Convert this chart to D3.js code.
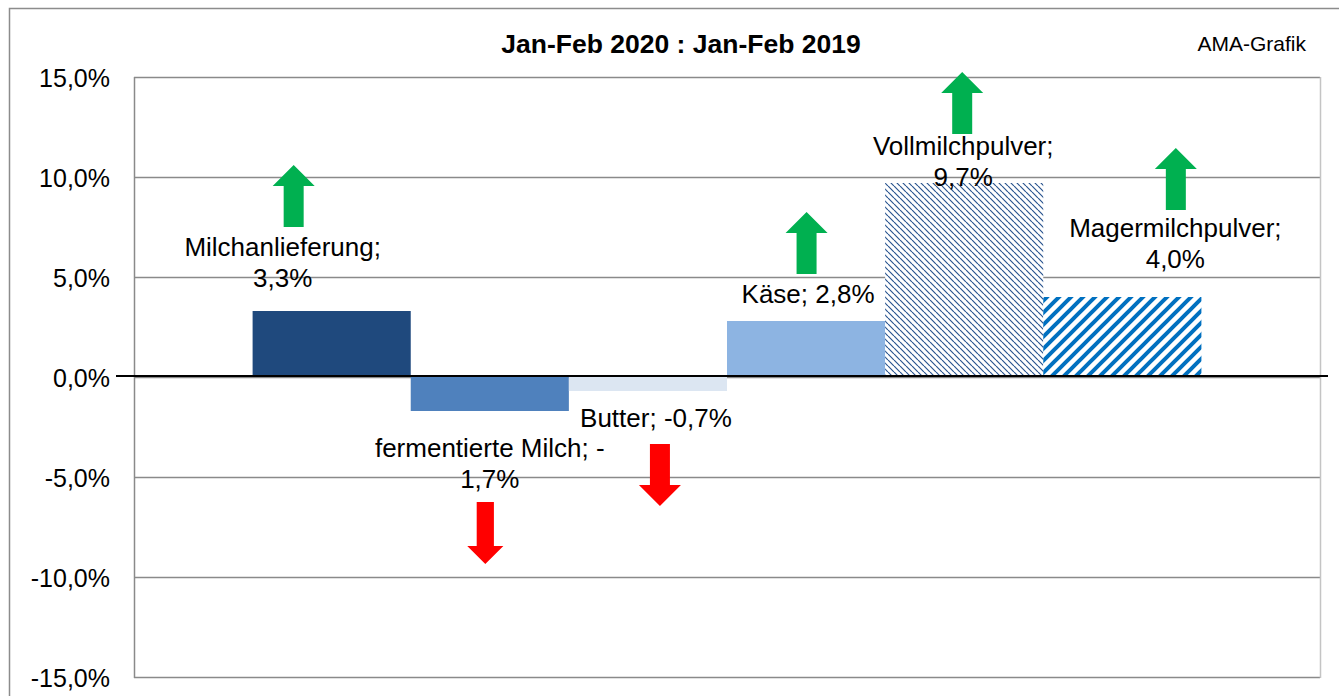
<!DOCTYPE html>
<html>
<head>
<meta charset="utf-8">
<script src="https://cdn.jsdelivr.net/npm/d3@7"></script>
<style>
  html, body { margin: 0; padding: 0; background: #fff; }
  svg { display: block; font-family: "Liberation Sans", Arial, sans-serif; }
</style>
</head>
<body>
<div id="chart"></div>
<script>
// data (change vs. previous year, in %)
const products = ["Milchanlieferung", "fermentierte Milch", "Butter", "Käse", "Vollmilchpulver", "Magermilchpulver"];
const changes = [3.3, -1.7, -0.7, 2.8, 9.7, 4.0];
const yTicks = [-15, -10, -5, 0, 5, 10, 15];
const title = "Jan-Feb 2020 : Jan-Feb 2019";
const source = "AMA-Grafik";

// layout of the hand-placed labels and arrows (offsets in px)
const labelDx = [-49, 0, 8, 2, -1, 53];        // from bar centre
const labelDy = [-55, 46, 36, -18, -28, -60];  // first baseline from bar end
const labelSplit = [17, 21, 0, 0, 16, 17];     // where the label wraps (0 = one line)
const arrowDx = [11, -4.5, 4, -1.5, -1, 0.5];  // from label centre
const arrowDy = [-91, 45, 17, -91, -83, -89];  // arrow top from first baseline
const arrowSize = [1, 0.86, 1, 1, 1, 1];

const width = 1339, height = 696;
const plot = { left: 134, top: 77, right: 1320, bottom: 677 };

const locale = d3.formatLocale({ decimal: ",", thousands: ".", grouping: [3], currency: ["", "€"], minus: "-" });
const fmt = locale.format(".1f");
const pct = v => fmt(v) + "%";

const svg = d3.select("#chart").append("svg")
  .attr("width", width)
  .attr("height", height);

// patterns for the two powder bars
const defs = svg.append("defs");
const p1 = defs.append("pattern")
  .attr("id", "pat-voll")
  .attr("patternUnits", "userSpaceOnUse")
  .attr("width", 6).attr("height", 6);
p1.append("rect").attr("width", 6).attr("height", 6).attr("fill", "#fff");
p1.append("path")
  .attr("d", "M0,0L6,6M-3,3L0,6M6,0L9,3")
  .attr("stroke", "#2A5590")
  .attr("stroke-width", 1.2);

const p2 = defs.append("pattern")
  .attr("id", "pat-mager")
  .attr("patternUnits", "userSpaceOnUse")
  .attr("width", 12).attr("height", 12);
p2.append("rect").attr("width", 12).attr("height", 12).attr("fill", "#fff");
p2.append("path")
  .attr("d", "M0,12L12,0M-6,6L6,-6M6,18L18,6")
  .attr("stroke", "#0070C0")
  .attr("stroke-width", 4);

const fills = ["#1F497D", "#4F81BD", "#DCE6F2", "#8DB4E2", "url(#pat-voll)", "url(#pat-mager)"];

// outer chart border
svg.append("rect")
  .attr("x", 9.5).attr("y", 8.5)
  .attr("width", width).attr("height", height)
  .attr("fill", "none")
  .attr("stroke", "#8c8c8c")
  .attr("stroke-width", 1.5);

// scales: one category, six series, Excel gap width 150%
const x = d3.scaleBand()
  .domain(products)
  .range([plot.left, plot.right])
  .paddingInner(0)
  .paddingOuter(0.75);

const y = d3.scaleLinear()
  .domain([-15, 15])
  .range([plot.bottom, plot.top]);

// gridlines
svg.append("g")
  .selectAll("line")
  .data(yTicks)
  .join("line")
  .attr("x1", plot.left).attr("x2", plot.right)
  .attr("y1", d => y(d) + 0.5).attr("y2", d => y(d) + 0.5)
  .attr("stroke", "#8a8a8a")
  .attr("stroke-width", 1.5);

// plot area sides
svg.append("line")
  .attr("x1", plot.left + 0.5).attr("x2", plot.left + 0.5)
  .attr("y1", plot.top).attr("y2", plot.bottom + 1)
  .attr("stroke", "#8a8a8a").attr("stroke-width", 1.5);
svg.append("line")
  .attr("x1", plot.right + 0.5).attr("x2", plot.right + 0.5)
  .attr("y1", plot.top).attr("y2", plot.bottom + 1)
  .attr("stroke", "#c4c4c4").attr("stroke-width", 1.5);

// y axis labels
const yAxis = svg.append("g")
  .attr("transform", `translate(${plot.left - 24},0)`)
  .call(d3.axisLeft(y).tickValues(yTicks).tickFormat(pct).tickSize(0).tickPadding(0));
yAxis.select(".domain").remove();
yAxis.selectAll("text")
  .attr("font-family", "'Liberation Sans', Arial, sans-serif")
  .attr("font-size", 25)
  .attr("fill", "#000")
  .attr("dy", "0.36em");

// bars
svg.append("g")
  .selectAll("rect")
  .data(products)
  .join("rect")
  .attr("x", d => x(d))
  .attr("width", x.bandwidth())
  .attr("y", (d, i) => y(Math.max(0, changes[i])))
  .attr("height", (d, i) => Math.abs(y(changes[i]) - y(0)))
  .attr("fill", (d, i) => fills[i]);

// zero line
svg.append("line")
  .attr("x1", 116).attr("x2", 1328)
  .attr("y1", y(0) - 1).attr("y2", y(0) - 1)
  .attr("stroke", "#000")
  .attr("stroke-width", 2);

// title and source
svg.append("text")
  .attr("x", 681).attr("y", 53)
  .attr("text-anchor", "middle")
  .attr("font-size", 26.5)
  .attr("font-weight", "bold")
  .text(title);

svg.append("text")
  .attr("x", 1306).attr("y", 51)
  .attr("text-anchor", "end")
  .attr("font-size", 21)
  .text(source);

// data labels
const labels = svg.append("g");
products.forEach((name, i) => {
  const cx = x(name) + x.bandwidth() / 2 + labelDx[i];
  const base = y(changes[i]) + labelDy[i];
  const full = `${name}; ${pct(changes[i])}`;
  const lines = labelSplit[i] ? [full.slice(0, labelSplit[i]).trim(), full.slice(labelSplit[i]).trim()] : [full];
  const t = labels.append("text")
    .attr("text-anchor", "middle")
    .attr("font-size", 26)
    .attr("fill", "#000");
  lines.forEach((ln, j) => {
    t.append("tspan").attr("x", cx).attr("y", base + j * 31).text(ln);
  });

  // arrow up or down
  const s = arrowSize[i];
  const ax = cx + arrowDx[i], top = base + arrowDy[i];
  const hw = 21 * s, sw = 10 * s, hh = 21 * s, h = 62;
  let pts;
  if (changes[i] > 0) {
    pts = [[ax, top], [ax + hw, top + hh], [ax + sw, top + hh], [ax + sw, top + h],
           [ax - sw, top + h], [ax - sw, top + hh], [ax - hw, top + hh]];
  } else {
    const b = top + h;
    pts = [[ax, b], [ax + hw, b - hh], [ax + sw, b - hh], [ax + sw, top],
           [ax - sw, top], [ax - sw, b - hh], [ax - hw, b - hh]];
  }
  labels.append("path")
    .attr("d", d3.line()(pts) + "Z")
    .attr("fill", changes[i] > 0 ? "#00B050" : "#FF0000");
});
</script>
</body>
</html>
